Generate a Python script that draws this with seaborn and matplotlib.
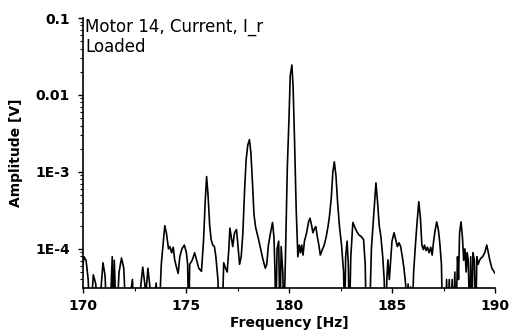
import matplotlib
matplotlib.use("Agg")
import matplotlib.pyplot as plt
import matplotlib.ticker as mticker
import seaborn as sns
import pandas as pd

freq = [170.00, 170.05, 170.15, 170.25, 170.35, 170.50, 170.62, 170.72, 170.85, 170.97,
        171.07, 171.18, 171.35, 171.42, 171.47, 171.52, 171.62, 171.75, 171.87, 171.98,
        172.10, 172.30, 172.40, 172.48, 172.70, 172.80, 172.90, 173.00, 173.05, 173.15,
        173.25, 173.30, 173.45, 173.55, 173.68, 173.80, 173.97, 174.05, 174.15, 174.22,
        174.30, 174.38, 174.45, 174.55, 174.62, 174.70, 174.80, 174.92, 175.02, 175.08,
        175.13, 175.18, 175.30, 175.42, 175.52, 175.62, 175.75, 175.85, 175.93, 176.00,
        176.07, 176.15, 176.22, 176.30, 176.38, 176.45, 176.55, 176.62, 176.75, 176.83,
        176.92, 177.00, 177.08, 177.13, 177.20, 177.27, 177.35, 177.45, 177.52, 177.60,
        177.68, 177.76, 177.85, 177.92, 178.00, 178.08, 178.15, 178.22, 178.30, 178.38,
        178.50, 178.62, 178.72, 178.85, 178.92, 179.00, 179.10, 179.20, 179.27, 179.32,
        179.36, 179.42, 179.50, 179.56, 179.62, 179.70, 179.75, 179.82, 179.92, 180.00,
        180.06, 180.14, 180.20, 180.27, 180.35, 180.43, 180.50, 180.56, 180.62, 180.68,
        180.75, 180.85, 180.95, 181.02, 181.10, 181.16, 181.23, 181.30, 181.38, 181.45,
        181.52, 181.60, 181.70, 181.80, 181.90, 181.96, 182.05, 182.13, 182.20, 182.28,
        182.36, 182.45, 182.55, 182.65, 182.70, 182.75, 182.82, 182.88, 182.93, 183.00,
        183.10, 183.20, 183.30, 183.40, 183.50, 183.62, 183.70, 183.75, 183.90, 184.00,
        184.10, 184.22, 184.30, 184.38, 184.46, 184.55, 184.62, 184.68, 184.75, 184.80,
        184.87, 184.92, 185.00, 185.10, 185.18, 185.26, 185.34, 185.42, 185.50, 185.58,
        185.66, 185.72, 185.78, 185.84, 185.90, 185.97, 186.05, 186.15, 186.22, 186.30,
        186.38, 186.45, 186.52, 186.58, 186.65, 186.72, 186.80, 186.88, 186.95, 187.02,
        187.10, 187.17, 187.25, 187.32, 187.40, 187.46, 187.60, 187.65, 187.70, 187.78,
        187.83, 187.92, 187.97, 188.05, 188.10, 188.18, 188.23, 188.28, 188.35, 188.42,
        188.48, 188.54, 188.60, 188.65, 188.70, 188.78, 188.82, 188.87, 188.93, 189.00,
        189.06, 189.12, 189.18, 189.25, 189.32, 189.40, 189.50, 189.60, 189.66, 189.75,
        189.85, 189.92, 190.00]

amplitude = [6.2e-5, 7.9e-5, 7.1e-5, 4.0e-5, 1e-5, 4.6e-5, 3.5e-5, 1e-5, 2.5e-5, 6.6e-5,
             4.5e-5, 1e-5, 2.5e-5, 7.9e-5, 1e-5, 7.1e-5, 1e-5, 5.0e-5, 7.6e-5, 5.6e-5,
             1e-5, 2.5e-5, 4.0e-5, 1e-5, 1e-5, 3.2e-5, 5.8e-5, 3.5e-5, 2.5e-5, 5.6e-5,
             3.2e-5, 1e-5, 2.0e-5, 3.6e-5, 1e-5, 6.3e-5, 2.0e-4, 1.6e-4, 1.0e-4, 1.07e-4,
             8.9e-5, 1.05e-4, 7.2e-5, 5.6e-5, 4.8e-5, 7.9e-5, 1.0e-4, 1.12e-4, 8.9e-5, 6.3e-5,
             1e-5, 6.3e-5, 7.1e-5, 8.9e-5, 7.1e-5, 5.6e-5, 5.1e-5, 1.26e-4, 4.0e-4, 8.7e-4,
             5.0e-4, 2.0e-4, 1.32e-4, 1.12e-4, 1.07e-4, 7.9e-5, 4.0e-5, 1e-5, 1e-5, 6.6e-5,
             5.6e-5, 5.0e-5, 1.0e-4, 1.86e-4, 1.41e-4, 1.07e-4, 1.6e-4, 1.78e-4, 1.12e-4, 6.3e-5,
             7.9e-5, 1.6e-4, 6.3e-4, 1.45e-3, 2.24e-3, 2.63e-3, 1.78e-3, 7.9e-4, 2.8e-4, 1.9e-4,
             1.41e-4, 1.0e-4, 7.6e-5, 5.6e-5, 6.3e-5, 1.12e-4, 1.6e-4, 2.2e-4, 1.41e-4, 5.0e-5,
             1e-5, 1.0e-4, 1.26e-4, 1e-5, 1.07e-4, 5.0e-5, 1e-5, 6.3e-5, 1.17e-3, 5.0e-3,
             1.78e-2, 2.45e-2, 1.26e-2, 2.5e-3, 3.2e-4, 7.9e-5, 1.12e-4, 8.9e-5, 1.12e-4, 8.3e-5,
             1.26e-4, 1.6e-4, 2.24e-4, 2.5e-4, 2.0e-4, 1.62e-4, 1.82e-4, 1.95e-4, 1.41e-4, 1.12e-4,
             8.3e-5, 9.5e-5, 1.10e-4, 1.41e-4, 2.0e-4, 2.6e-4, 4.5e-4, 1.0e-3, 1.35e-3, 8.9e-4,
             4.0e-4, 1.95e-4, 1.12e-4, 5.0e-5, 1e-5, 7.9e-5, 1.26e-4, 6.3e-5, 1e-5, 7.9e-5,
             2.2e-4, 1.9e-4, 1.66e-4, 1.51e-4, 1.45e-4, 1.32e-4, 6.3e-5, 1e-5, 1e-5, 1.0e-4,
             2.5e-4, 7.2e-4, 4.0e-4, 2.0e-4, 1.45e-4, 7.9e-5, 4.0e-5, 1e-5, 4.0e-5, 7.2e-5,
             4.0e-5, 6.3e-5, 1.26e-4, 1.62e-4, 1.32e-4, 1.07e-4, 1.2e-4, 1.07e-4, 7.9e-5, 5.6e-5,
             3.5e-5, 1e-5, 3.5e-5, 1e-5, 3.2e-5, 1e-5, 5.0e-5, 1.26e-4, 2.24e-4, 4.1e-4,
             2.5e-4, 1.12e-4, 9.8e-5, 1.12e-4, 9.5e-5, 1.05e-4, 8.9e-5, 1.05e-4, 8.3e-5, 1.26e-4,
             1.78e-4, 2.24e-4, 1.78e-4, 1.2e-4, 6.3e-5, 1e-5, 1e-5, 4.0e-5, 1e-5, 4.0e-5,
             1e-5, 4.0e-5, 1e-5, 5.0e-5, 1e-5, 7.9e-5, 4.0e-5, 1.6e-4, 2.24e-4, 1.41e-4,
             7.1e-5, 1.0e-4, 5.0e-5, 8.9e-5, 7.1e-5, 1e-5, 7.9e-5, 1e-5, 8.9e-5, 7.1e-5,
             1e-5, 7.9e-5, 6.3e-5, 7.1e-5, 7.6e-5, 7.9e-5, 8.9e-5, 1.12e-4, 9.3e-5, 7.1e-5,
             5.6e-5, 5.2e-5, 4.8e-5]

xticks = [170, 175, 180, 185, 190]
yticks = [1e-4, 1e-3, 1e-2, 1e-1]
ytick_labels = ["1E-4", "1E-3", "0.01", "0.1"]
title_lines = "Motor 14, Current, I_r\nLoaded"

sns.set_style("ticks")
plt.rcParams['font.family'] = ['DejaVu Sans']
plt.rcParams['text.color'] = 'black'
plt.rcParams['axes.labelcolor'] = 'black'
plt.rcParams['xtick.color'] = 'black'
plt.rcParams['ytick.color'] = 'black'

df = pd.DataFrame({"Frequency": freq, "Amplitude": amplitude})

fig = plt.figure(figsize=(5.12, 3.34), dpi=100)
ax = fig.add_axes([83/512, 1 - 288/334, (495 - 83)/512, (288 - 18)/334])
sns.lineplot(data=df, x="Frequency", y="Amplitude", ax=ax, color="black",
             linewidth=1.2, estimator=None, sort=False)
ax.set_yscale("log")
ax.set_xlim(170, 190)
ax.set_ylim(3.1e-5, 0.1)

ax.set_xticks(xticks)
ax.set_xticklabels([str(t) for t in xticks], fontweight="bold", fontsize=10)
ax.xaxis.set_minor_locator(mticker.MultipleLocator(2.5))
ax.set_yticks(yticks)
ax.set_yticklabels(ytick_labels, fontweight="bold", fontsize=10)
ax.yaxis.set_minor_locator(mticker.LogLocator(base=10, subs=range(2, 10), numticks=20))
ax.yaxis.set_minor_formatter(mticker.NullFormatter())

ax.tick_params(axis="both", which="major", direction="out", length=3.5, width=1, colors="black")
ax.tick_params(axis="both", which="minor", direction="out", length=2, width=0.8, colors="black")
ax.tick_params(axis="x", which="major", pad=4.5)
ax.tick_params(axis="y", which="major", pad=6)

for side in ["top", "right"]:
    ax.spines[side].set_visible(False)
for side in ["left", "bottom"]:
    ax.spines[side].set_linewidth(1.2)
    ax.spines[side].set_color("black")

ax.set_xlabel("Frequency [Hz]", fontweight="bold", fontsize=10, labelpad=2)
ax.set_ylabel("Amplitude [V]", fontweight="bold", fontsize=10, labelpad=9)

ax.text(0.006, 1.0, title_lines, transform=ax.transAxes, ha="left", va="top",
        fontsize=12, linespacing=1.15)

fig.savefig("out.png", dpi=100)
